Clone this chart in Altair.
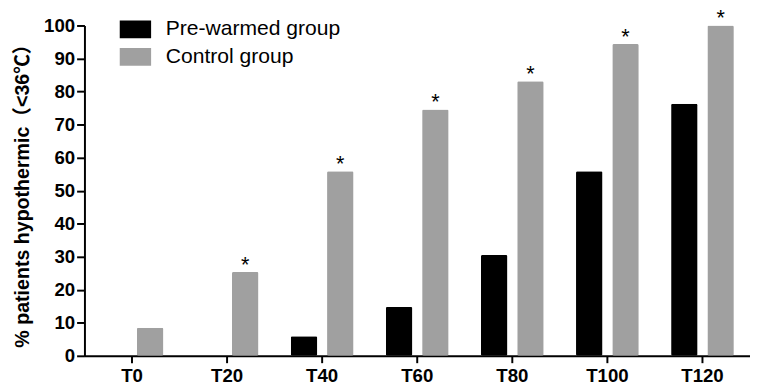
import altair as alt
import pandas as pd

categories = ["T0", "T20", "T40", "T60", "T80", "T100", "T120"]
pre_warmed = [0, 0, 5.9, 14.8, 30.5, 55.9, 76.3]
control = [8.5, 25.4, 55.9, 74.6, 83.1, 94.4, 100]
significance = ["", "*", "*", "*", "*", "*", "*"]
groups = ["Pre-warmed group", "Control group"]
colors = ["#000000", "#a0a0a0"]

rows = []
for i, c in enumerate(categories):
    rows.append({"time": c, "group": groups[0], "value": pre_warmed[i], "star": ""})
    rows.append({"time": c, "group": groups[1], "value": control[i], "star": significance[i]})
df = pd.DataFrame(rows)

FONT = "Liberation Sans, Noto Sans CJK SC"

base = alt.Chart(df).encode(
    x=alt.X(
        "time:N",
        sort=categories,
        scale=alt.Scale(paddingInner=0, paddingOuter=0),
        axis=alt.Axis(
            title=None, labelAngle=0, labelFontSize=19, labelFontWeight="bold",
            labelColor="#000", labelFont=FONT, tickSize=7, tickWidth=2, tickColor="#000",
            domainWidth=2, domainColor="#000", labelPadding=4,
        ),
    ),
    xOffset=alt.XOffset(
        "group:N", sort=groups,
        scale=alt.Scale(domain=groups, paddingInner=0.27, paddingOuter=0.446),
    ),
    y=alt.Y(
        "value:Q",
        scale=alt.Scale(domain=[0, 100], nice=False),
        axis=alt.Axis(
            title="% patients hypothermic（<36℃）", titleFontSize=20, titleFontWeight="bold",
            titleFont=FONT, titleColor="#000", titleX=-53,
            values=list(range(0, 101, 10)), labelFontSize=19, labelFontWeight="bold",
            labelFont=FONT, labelColor="#000", tickSize=8, tickWidth=2, tickColor="#000",
            domainWidth=2, domainColor="#000", labelPadding=2, grid=False,
        ),
    ),
)

bars = base.mark_bar(cornerRadius=1.5).encode(
    color=alt.Color(
        "group:N",
        scale=alt.Scale(domain=groups, range=colors),
        legend=alt.Legend(
            title=None, orient="none", legendX=36, legendY=-12,
            symbolType="M-1,-0.5625L1,-0.5625L1,0.5625L-1,0.5625Z",
            symbolSize=1024, symbolStrokeWidth=0, symbolOpacity=1,
            labelFontSize=21.5, labelFont=FONT, labelColor="#000", labelLimit=400,
            rowPadding=1, labelOffset=15, padding=0,
        ),
    )
)

stars = base.mark_text(
    baseline="alphabetic", dy=0, fontSize=22, font=FONT, color="#000"
).encode(text="star:N")

chart = (
    alt.layer(bars, stars)
    .properties(
        width=679, height=337,
        autosize=alt.AutoSizeParams(type="none"),
        padding={"left": 78, "top": 14, "right": 0, "bottom": 30},
    )
    .configure_view(stroke=None)
)

chart.save("out.html", embed_options={"renderer": "svg", "actions": False})
